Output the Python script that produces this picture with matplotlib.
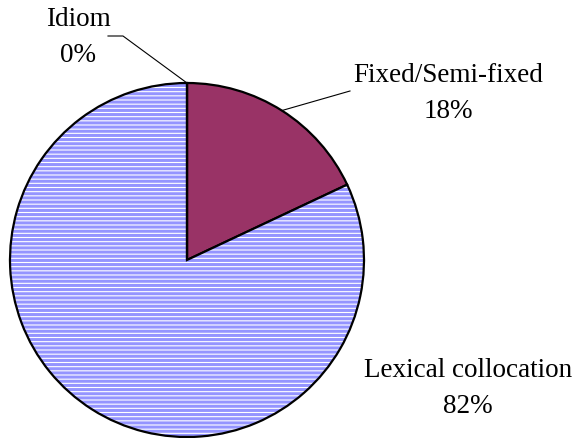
import numpy as np
import matplotlib.pyplot as plt
from matplotlib.patches import Wedge

labels = ['Fixed/Semi-fixed', 'Lexical collocation', 'Idiom']
values = [18, 82, 0]
colors = ['#993366', 'white', 'white']
hatches = [None, '----', None]

plt.rcParams['hatch.linewidth'] = 2.2

fig = plt.figure(figsize=(5.75, 4.39), dpi=100)
ax = fig.add_axes([0, 0, 1, 1])

cx, cy, r = 187, 178, 177
wedges, _ = ax.pie(values, colors=colors, startangle=90, counterclock=False,
                   center=(cx, cy), radius=r, frame=True,
                   wedgeprops=dict(edgecolor='black', linewidth=1.6))
for w, h in zip(wedges, hatches):
    if h:
        # hatch takes the edge colour, so outline the wedge separately
        w.set_hatch(h)
        w.set_edgecolor('#9494ff')
        w.set_linewidth(0)
        ax.add_patch(Wedge(w.center, w.r, w.theta1, w.theta2, fill=False,
                           edgecolor='black', linewidth=1.6, zorder=w.get_zorder() + 1))
ax.set_xlim(0, 575)
ax.set_ylim(0, 439)
ax.set_aspect('equal')
ax.axis('off')

total = sum(values)
font = dict(family='Liberation Serif', fontsize=19.5, ha='center', va='center')

# label text and leader line elbows for each slice
text_pos = {'Fixed/Semi-fixed': (448, 345), 'Lexical collocation': (468, 50), 'Idiom': (78, 402)}
elbow = {'Fixed/Semi-fixed': [(350, 347)], 'Idiom': [(123, 402), (108, 402)]}

start = 90
for lab, v in zip(labels, values):
    mid = np.deg2rad(start - v / total * 360 / 2)
    start -= v / total * 360
    tx, ty = text_pos[lab]
    ax.text(tx, ty + 18, lab, **font)
    ax.text(tx, ty - 18, f'{v / total * 100:.0f}%', **font)
    if lab in elbow:
        px, py = cx + r * np.cos(mid), cy + r * np.sin(mid)
        pts = [(px, py)] + elbow[lab]
        ax.plot([p[0] for p in pts], [p[1] for p in pts], color='black', lw=0.8)

fig.savefig('out.png', dpi=100)
